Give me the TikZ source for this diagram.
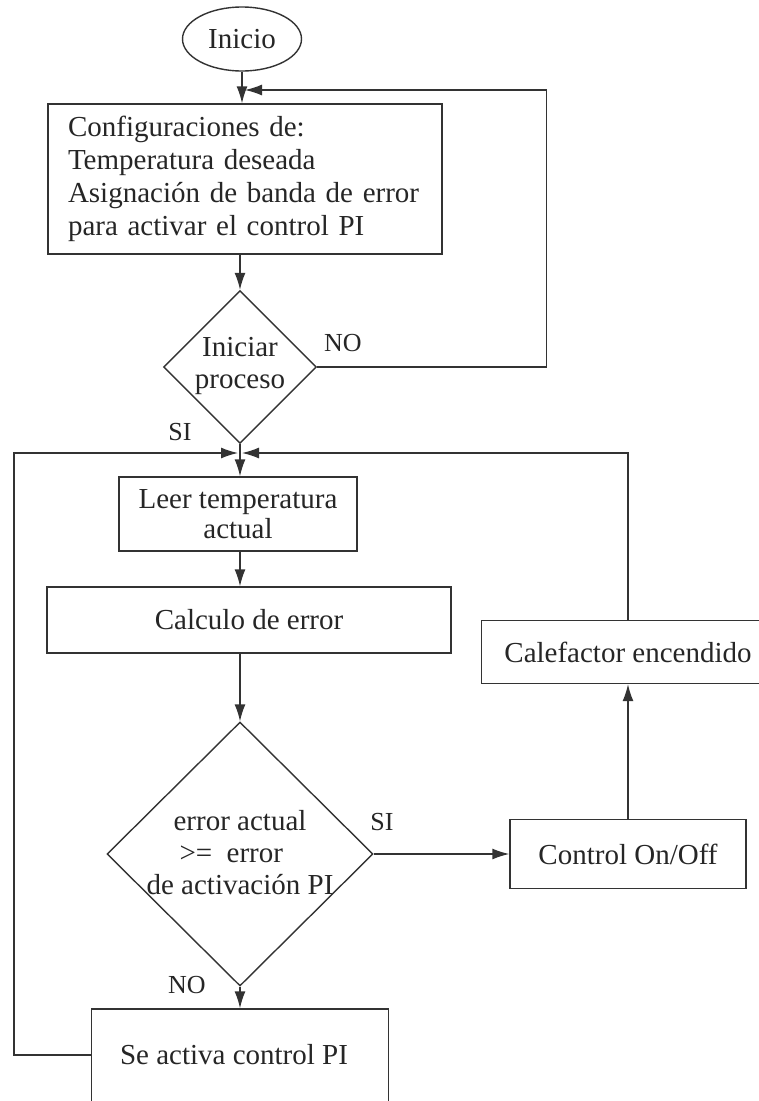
\documentclass[tikz,border=0pt]{standalone}
\usepackage{fontspec}
\setmainfont{Liberation Serif}
\usetikzlibrary{shapes.geometric,arrows.meta}
\begin{document}
\begin{tikzpicture}[x=1pt,y=-1pt,
  ln/.style={draw=black!80, line width=1.4pt},
  arr/.style={ln, -{Latex[length=17pt,width=11pt]}},
  txt/.style={font=\fontsize{29}{32}\selectfont, text=black!85, align=center, inner sep=0pt},
  lbl/.style={font=\fontsize{26}{30}\selectfont, text=black!85, inner sep=0pt},
  box/.style={ln, rectangle, inner sep=0pt, txt},
  dia/.style={ln, diamond, inner sep=0pt},
  ell/.style={ln, ellipse, inner sep=0pt, txt}
]
\useasboundingbox (0,0) rectangle (759,1101);
\fill[white] (0,0) rectangle (759,1101);

% nodes
\node[ell, minimum width=119, minimum height=64] (inicio) at (242,39) {Inicio};
\node[box, minimum width=394, minimum height=150, text width=354, align=left, font=\fontsize{29}{33}\selectfont] (cfg) at (245,179)
  {Configuraciones de:\\Temperatura deseada\\Asignación de banda de error\\para activar el control PI};
\node[dia, minimum width=153, minimum height=153] (d1) at (240,367) {};
\node[txt] (d1t) at (240,366) {Iniciar\\proceso};
\node[box, minimum width=238, minimum height=74, font=\fontsize{29}{30}\selectfont] (leer) at (238,514) {Leer temperatura\\actual};
\node[box, minimum width=404, minimum height=66] (calc) at (249,620) {Calculo de error};
\node[dia, minimum width=266, minimum height=264] (d2) at (240,854) {};
\node[txt] (d2t) at (240,853) {error actual\\ \hspace*{-0.6em}>=\enspace error\\de activación PI};
\node[box, minimum width=236, minimum height=69] (ctrl) at (628,854) {Control On/Off};
\node[box, minimum width=293, minimum height=63] (calef) at (628,652) {Calefactor encendido};
\node[box, minimum width=297, minimum height=120] (se) at (240,1069) {};
\node[txt] (set) at (234,1055) {Se activa control PI};

% labels
\node[lbl] (no1) at (343,343) {NO};
\node[lbl] (si1) at (180,432) {SI};
\node[lbl] (si2) at (382,822) {SI};
\node[lbl] (no2) at (187,985) {NO};

% junctions
\coordinate (j1) at (inicio.south |- 0,90);
\coordinate (j2) at (d1.south |- 0,453);

% connectors
\draw[arr] (inicio.south) -- (inicio.south |- cfg.north);
\draw[arr, shorten >=-1pt] (d1.east) -- ++(229,0) coordinate (c1) |- ([xshift=4pt]j1);
\draw[arr] (cfg.south -| d1.north) -- (d1.north);
\draw[arr] (d1.south) -- (d1.south |- leer.north);
\draw[arr, shorten >=2pt] (calef.north) |- (j2);
\draw[arr, shorten >=2pt] (set.west -| se.west) -- ++(-77,0) coordinate (c2) |- (j2);
\draw[arr] (leer.south -| d2.north) -- (d2.north |- calc.north);
\draw[arr] (calc.south -| d2.north) -- (d2.north);
\draw[arr] (d2.east) -- (ctrl.west);
\draw[arr] (ctrl.north) -- (calef.south);
\draw[arr] (d2.south) -- (se.north);
\end{tikzpicture}
\end{document}
